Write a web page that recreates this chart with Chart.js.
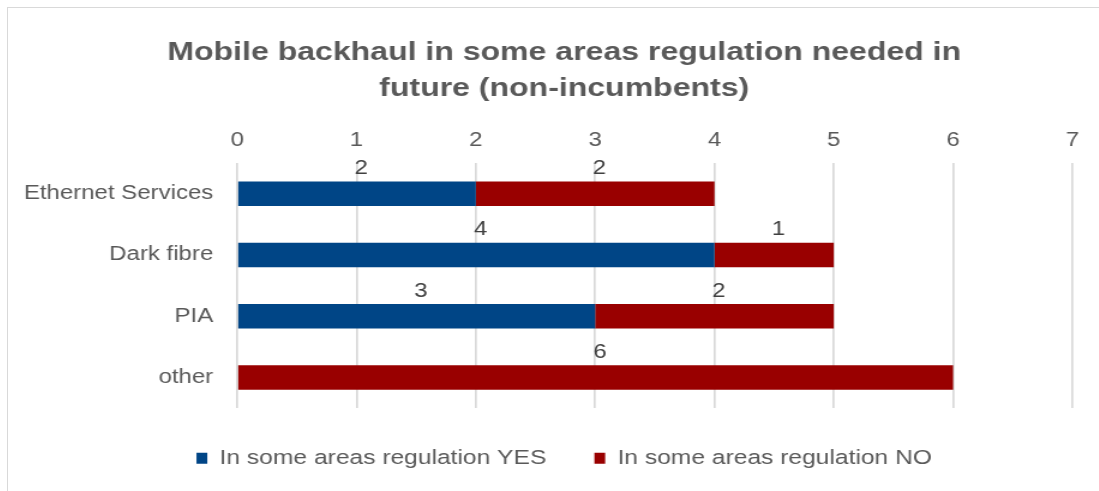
<!DOCTYPE html>
<html>
<head>
<meta charset="utf-8">
<script src="https://cdn.jsdelivr.net/npm/chart.js@4"></script>
<style>
  html, body { margin: 0; padding: 0; background: #fff; overflow: hidden; }
  #wrap { position: absolute; left: 7px; top: 7px; width: 1112px; height: 500px; border: 1px solid #d9d9d9; background: #fff; overflow: hidden; }
  canvas { display: block; transform: scaleX(1.2); transform-origin: 0 0; }
</style>
</head>
<body>
<div id="wrap"><canvas id="c" width="927" height="490"></canvas></div>
<script>
const categories = ["Ethernet Services", "Dark fibre", "PIA", "other"];
const yesValues = [2, 4, 3, 0];
const noValues = [2, 1, 2, 6];
const seriesNames = ["In some areas regulation YES", "In some areas regulation NO"];
const titleLines = ["Mobile backhaul in some areas regulation needed in", "future (non-incumbents)"];

const FONT = "'Liberation Sans', Arial, sans-serif";

const labelPlugin = {
  id: 'barLabels',
  afterDatasetsDraw(chart) {
    const ctx = chart.ctx;
    ctx.save();
    ctx.font = "20px " + FONT;
    ctx.fillStyle = "#404040";
    ctx.textAlign = "left";
    ctx.textBaseline = "middle";
    chart.data.datasets.forEach((ds, i) => {
      const meta = chart.getDatasetMeta(i);
      meta.data.forEach((el, j) => {
        const v = ds.data[j];
        if (!v) return;
        const cx = (el.x + el.base) / 2;
        ctx.fillText(String(v), cx - 2, el.y - 25);
      });
    });
    ctx.restore();
  }
};

new Chart(document.getElementById('c'), {
  type: 'bar',
  data: {
    labels: categories,
    datasets: [
      { label: seriesNames[0], data: yesValues, backgroundColor: '#004586', barPercentage: 0.4, categoryPercentage: 1 },
      { label: seriesNames[1], data: noValues, backgroundColor: '#990000', barPercentage: 0.4, categoryPercentage: 1 }
    ]
  },
  options: {
    indexAxis: 'y',
    responsive: false,
    animation: false,
    devicePixelRatio: 1,
    layout: { padding: { left: 0, right: 0, top: 0, bottom: 19.5 } },
    plugins: {
      title: {
        display: true,
        text: titleLines,
        color: '#595959',
        font: { family: FONT, size: 26.7, weight: 'bold', lineHeight: 1.35 },
        padding: { top: 27, bottom: 0 }
      },
      legend: {
        position: 'bottom',
        labels: {
          color: '#595959',
          font: { family: FONT, size: 20.5 },
          boxWidth: 9,
          boxHeight: 11,
          padding: 40
        }
      },
      tooltip: { enabled: false }
    },
    scales: {
      x: {
        position: 'top',
        stacked: true,
        min: 0,
        max: 7,
        ticks: { stepSize: 1, color: '#595959', font: { family: FONT, size: 20 }, padding: 11 },
        grid: { color: '#d9d9d9', lineWidth: 1.7, drawTicks: false },
        border: { display: false },
        afterFit(scale) { scale.height = 56; }
      },
      y: {
        stacked: true,
        ticks: { color: '#595959', font: { family: FONT, size: 20 }, padding: 12 },
        grid: { display: false },
        border: { display: false },
        afterFit(scale) { scale.width = 191; }
      },
      yRight: {
        type: 'category',
        position: 'right',
        labels: categories,
        ticks: { display: false },
        grid: { display: false },
        border: { display: false },
        afterFit(scale) { scale.width = 40; }
      }
    }
  },
  plugins: [labelPlugin]
});
</script>
</body>
</html>
